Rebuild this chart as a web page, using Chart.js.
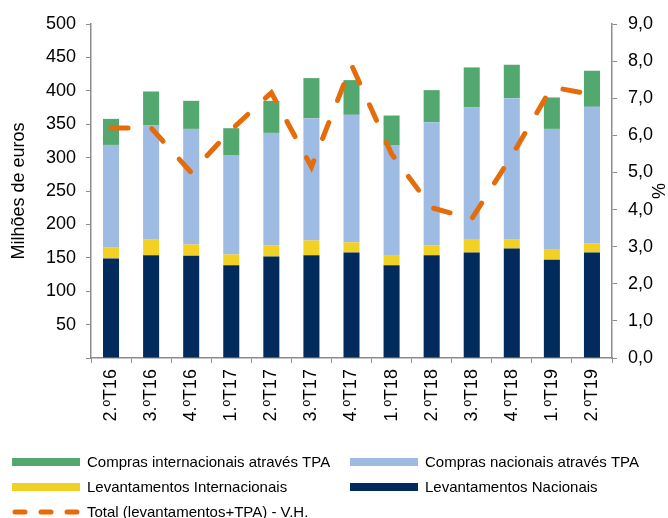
<!DOCTYPE html>
<html>
<head>
<meta charset="utf-8">
<script src="https://cdn.jsdelivr.net/npm/chart.js@4/dist/chart.umd.min.js"></script>
<style>
  html, body { margin: 0; padding: 0; background: #fff; }
</style>
</head>
<body>
<canvas id="myChart" width="668" height="518"></canvas>
<script>
const quarters = ['2.ºT16', '3.ºT16', '4.ºT16', '1.ºT17', '2.ºT17', '3.ºT17', '4.ºT17', '1.ºT18', '2.ºT18', '3.ºT18', '4.ºT18', '1.ºT19', '2.ºT19'];
const levNacionais = [149, 154, 153, 139, 152, 154, 158, 139, 154, 158, 164, 147, 158];
const levInternacionais = [17, 24, 17, 16, 17, 22, 15, 14, 15, 19, 14, 15, 14];
const comprasNacionais = [153, 170, 173, 148, 168, 183, 191, 165, 184, 198, 211, 181, 204];
const comprasInternacionais = [39, 51, 42, 41, 48, 60, 52, 45, 48, 60, 50, 47, 54];
const totalVH = [6.2, 6.2, 5.0, 6.15, 7.15, 5.15, 7.9, 5.5, 4.05, 3.75, 5.45, 7.3, 7.1];

const axisGrey = '#8c8c8c';
Chart.defaults.font.family = "'Liberation Sans', Arial, sans-serif";
Chart.defaults.color = '#000';

// legend drawn by hand: two columns, line item on its own row
const legendPlugin = {
  id: 'sideLegend',
  afterDraw(chart) {
    const c = chart.ctx;
    const ds = chart.data.datasets;
    const items = [
      { i: 3, x: 12, y: 462 }, { i: 2, x: 350, y: 462 },
      { i: 1, x: 12, y: 487 }, { i: 0, x: 350, y: 487 },
      { i: 4, x: 12, y: 512 }
    ];
    c.save();
    c.font = "15px 'Liberation Sans', Arial, sans-serif";
    c.textBaseline = 'middle';
    c.fillStyle = '#000';
    items.forEach(it => {
      const d = ds[it.i];
      if (d.type === 'line') {
        c.strokeStyle = d.borderColor;
        c.lineWidth = 5;
        c.lineCap = 'round';
        c.setLineDash([10, 16]);
        c.beginPath();
        c.moveTo(it.x + 3, it.y);
        c.lineTo(it.x + 66, it.y);
        c.stroke();
        c.setLineDash([]);
      } else {
        c.fillStyle = d.backgroundColor;
        c.fillRect(it.x, it.y - 4, 68, 8);
      }
      c.fillStyle = '#000';
      c.fillText(d.label, it.x + 75, it.y + 1);
    });
    c.restore();
  }
};

const ctx = document.getElementById('myChart').getContext('2d');

new Chart(ctx, {
  type: 'bar',
  data: {
    labels: quarters,
    datasets: [
      { label: 'Levantamentos Nacionais', data: levNacionais, backgroundColor: '#002b5c', yAxisID: 'y', order: 1 },
      { label: 'Levantamentos Internacionais', data: levInternacionais, backgroundColor: '#f3d024', yAxisID: 'y', order: 1 },
      { label: 'Compras nacionais através TPA', data: comprasNacionais, backgroundColor: '#9ebbe3', yAxisID: 'y', order: 1 },
      { label: 'Compras internacionais através TPA', data: comprasInternacionais, backgroundColor: '#53a86f', yAxisID: 'y', order: 1 },
      {
        type: 'line',
        label: 'Total (levantamentos+TPA) - V.H.',
        data: totalVH,
        yAxisID: 'y1',
        borderColor: '#e46c0a',
        borderWidth: 5,
        borderDash: [17, 24],
        borderCapStyle: 'round',
        pointRadius: 0,
        tension: 0,
        fill: false,
        order: 0
      }
    ]
  },
  options: {
    responsive: false,
    animation: false,
    datasets: { bar: { barPercentage: 0.4, categoryPercentage: 1 } },
    layout: { padding: { top: 24, left: 0, right: 0, bottom: 0 } },
    plugins: { legend: { display: false }, tooltip: { enabled: false } },
    scales: {
      x: {
        stacked: true,
        offset: true,
        grid: { display: true, offset: true, drawOnChartArea: false, drawTicks: true, tickLength: 5, color: axisGrey },
        border: { color: axisGrey, width: 1.5 },
        ticks: { minRotation: 90, maxRotation: 90, autoSkip: false, padding: 6, font: { size: 18 } },
        afterFit: s => { s.height = 160; }
      },
      y: {
        position: 'left',
        stacked: true,
        min: 0,
        max: 500,
        grid: { drawOnChartArea: false, tickLength: 5, color: axisGrey },
        border: { color: axisGrey, width: 1.5 },
        ticks: { stepSize: 50, padding: 10, font: { size: 18 }, callback: v => (v === 0 ? '' : v) },
        title: { display: true, text: 'Milhões de euros', font: { size: 18 }, padding: { top: 8, bottom: 0 } },
        afterFit: s => { s.width = 91; }
      },
      y1: {
        position: 'right',
        min: 0,
        max: 9,
        grid: { drawOnChartArea: false, tickLength: 5, color: axisGrey },
        border: { color: axisGrey, width: 1.5 },
        ticks: { stepSize: 1, padding: 11, font: { size: 18 }, callback: v => v.toFixed(1).replace('.', ',') },
        title: { display: true, text: '%', font: { size: 18 }, padding: { top: 0, bottom: 0 } },
        afterFit: s => { s.width = 56; }
      }
    }
  },
  plugins: [legendPlugin]
});
</script>
</body>
</html>
